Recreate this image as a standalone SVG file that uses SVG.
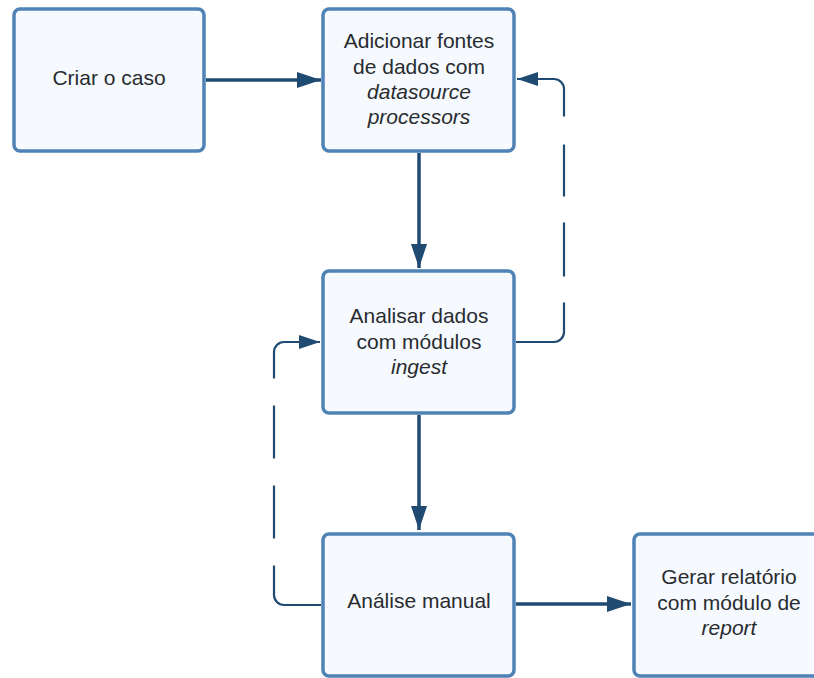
<svg xmlns="http://www.w3.org/2000/svg" width="814" height="678" viewBox="0 0 814 678">
<defs>
<style>
.box{fill:#f6faff;stroke:#4f83b6;stroke-width:3.5}
.t{font-family:"Liberation Sans",Arial,sans-serif;font-size:21px;fill:#282c30;text-anchor:middle}
.i{font-style:italic}
.c{fill:none;stroke:#1f4b73;stroke-width:3.5}
.d{fill:none;stroke:#1f4b73;stroke-width:2.2}
</style>
<marker id="a" markerUnits="userSpaceOnUse" markerWidth="26" markerHeight="18" refX="24" refY="8" orient="auto">
<path d="M0,0 L24,8 L0,16 Z" fill="#1f4b73"/>
</marker>
<marker id="b" markerUnits="userSpaceOnUse" markerWidth="24" markerHeight="16" refX="21" refY="7" orient="auto">
<path d="M0,0 L21,7 L0,14 Z" fill="#1f4b73"/>
</marker>
</defs>
<rect width="814" height="678" fill="#ffffff"/>
<g id="connectors">
<path class="c" d="M206,80 H321" marker-end="url(#a)"/>
<path class="c" d="M419,153 V268" marker-end="url(#a)"/>
<path class="c" d="M419,415 V530" marker-end="url(#a)"/>
<path class="c" d="M516,604 H631" marker-end="url(#a)"/>
<path class="d" d="M516,342 H554 A10,10 0 0 0 564,332 V89 A10,10 0 0 0 554,79 H517" stroke-dasharray="83 26 54 26 52 28 400" marker-end="url(#b)"/>
<path class="d" d="M321,605 H284 A10,10 0 0 1 274,595 V352 A10,10 0 0 1 284,342 H320" stroke-dasharray="82 27 53 27 53 27 400" marker-end="url(#b)"/>
</g>
<g id="n1">
<rect class="box" x="14" y="9" width="190" height="142" rx="6"/>
<text class="t" x="109" y="85">Criar o caso</text>
</g>
<g id="n2">
<rect class="box" x="323" y="9" width="191" height="142" rx="6"/>
<text class="t" x="419" y="48">Adicionar fontes</text>
<text class="t" x="419" y="74">de dados com</text>
<text class="t i" x="419" y="99">datasource</text>
<text class="t i" x="419" y="124">processors</text>
</g>
<g id="n3">
<rect class="box" x="323" y="271" width="191" height="142" rx="6"/>
<text class="t" x="419" y="323">Analisar dados</text>
<text class="t" x="419" y="349">com módulos</text>
<text class="t i" x="419" y="374">ingest</text>
</g>
<g id="n4">
<rect class="box" x="323" y="534" width="191" height="142" rx="6"/>
<text class="t" x="419" y="608">Análise manual</text>
</g>
<g id="n5">
<rect class="box" x="634" y="534" width="190" height="142" rx="6"/>
<text class="t" x="729" y="584">Gerar relatório</text>
<text class="t" x="729" y="610">com módulo de</text>
<text class="t i" x="729" y="635">report</text>
</g>
</svg>
